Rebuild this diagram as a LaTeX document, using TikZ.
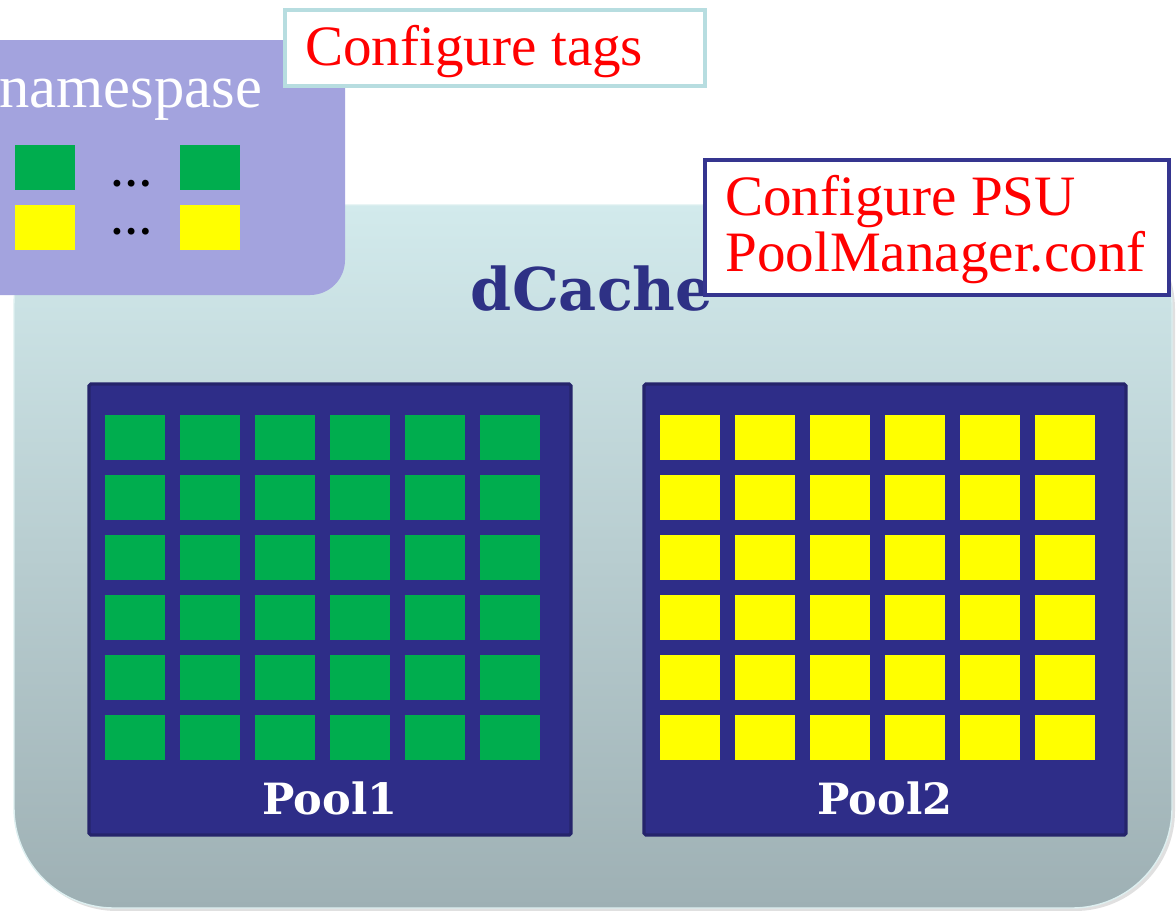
\documentclass[tikz,border=0pt]{standalone}
\usepackage{fontspec}
\setmainfont{Liberation Serif}
\newfontfamily\slabfont{DejaVu Serif}
\definecolor{dctop}{HTML}{D2EAEC}
\definecolor{dcbot}{HTML}{9EB0B4}
\definecolor{dcedge}{HTML}{DDEFF0}
\definecolor{nsfill}{HTML}{A3A3DE}
\definecolor{tagG}{HTML}{00AD4E}
\definecolor{tagY}{HTML}{FFFF00}
\definecolor{tagborder}{HTML}{B7DDE0}
\definecolor{psuborder}{HTML}{35358F}
\definecolor{dctext}{HTML}{2E3185}
\definecolor{poolfill}{HTML}{2E2D88}
\definecolor{poolborder}{HTML}{25246B}
\tikzset{
  serif32/.style={font=\fontsize{32.5}{38}\selectfont},
  redtext/.style={serif32, text=red, inner sep=0pt, anchor=base west},
  poolbox/.style={fill=poolfill, draw=poolborder, line width=1.8pt, rounded corners=1pt},
  poollabel/.style={text=white, inner sep=0pt, anchor=base, font=\slabfont\bfseries\fontsize{24.5}{28}\selectfont},
  gcell/.style={fill=tagG},
  ycell/.style={fill=tagY},
  dots/.style={inner sep=0pt, anchor=base, font=\bfseries\fontsize{24}{28}\selectfont}
}
\begin{document}
\begin{tikzpicture}[x=0.02cm,y=-0.02cm]
\useasboundingbox (0,0) rectangle (1176,910);
% dCache container
\fill[black!40, opacity=0.3, rounded corners=2cm] (17,209) rectangle (1175,911);
\shade[top color=dctop, bottom color=dcbot, rounded corners=2cm, draw=dcedge, line width=0.8pt] (14,205) rectangle (1172,908);
% namespace box
\fill[nsfill, rounded corners=0.7cm] (-40,40) rectangle (345,295);
\node[font=\fontsize{34.5}{40}\selectfont, text=white, inner sep=0pt, anchor=base west] (ns) at (-1,107) {namespase};
\fill[tagG] (15,145) rectangle (75,190);
\fill[tagG] (180,145) rectangle (240,190);
\fill[tagY] (15,205) rectangle (75,250);
\fill[tagY] (180,205) rectangle (240,250);
\node[dots] (d1) at (132,186) {…};
\node[dots] (d2) at (132,234) {…};
% Configure tags box
\draw[tagborder, line width=2.3pt, fill=white] (285,10) rectangle (705,86);
\node[redtext] (ct) at (305,65) {Configure tags};
% dCache title
\node[text=dctext, inner sep=0pt, anchor=base, font=\slabfont\bfseries\fontsize{33.5}{38}\selectfont] (dc) at (592,310) {dCache};
% PSU box
\draw[psuborder, line width=2.3pt, fill=white] (705,160) rectangle (1169,295);
\node[redtext] (psu1) at (725,215) {Configure PSU};
\node[redtext] (psu2) at (725,271) {PoolManager.conf};
% Pools
\draw[poolbox] (89,384) rectangle (571,835);
\draw[poolbox] (644,384) rectangle (1126,835);
\foreach \i in {0,...,5} {
  \foreach \j in {0,...,5} {
    \fill[gcell] (105+75*\i,415+60*\j) rectangle ++(60,45);
    \fill[ycell] (660+75*\i,415+60*\j) rectangle ++(60,45);
  }
}
\node[poollabel] (p1) at (330,814) {Pool1};
\node[poollabel] (p2) at (885,814) {Pool2};
\end{tikzpicture}
\end{document}
